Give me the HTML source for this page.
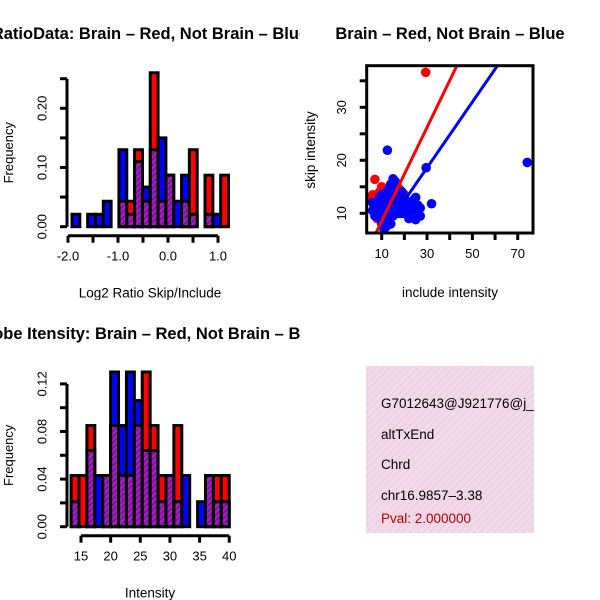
<!DOCTYPE html>
<html><head><meta charset="utf-8">
<style>
html,body{margin:0;padding:0;background:#fff;}
svg{display:block;font-family:"Liberation Sans",sans-serif;}
</style></head>
<body>
<svg id="chart" width="600" height="600" viewBox="0 0 600 600">
<defs>
<pattern id="hatch" width="4" height="4" patternUnits="userSpaceOnUse" patternTransform="rotate(45)">
<rect width="4" height="4" fill="#a020c0"/><rect width="1.5" height="4" fill="#7a1090"/>
</pattern>
<pattern id="pinkhatch" width="5" height="5" patternUnits="userSpaceOnUse" patternTransform="rotate(45)">
<rect width="5" height="5" fill="#f7d6f0"/><rect width="1.5" height="5" fill="#e3d6d4"/>
</pattern>
<clipPath id="leftTop"><rect x="0" y="0" width="300" height="300"/></clipPath>
<clipPath id="leftBot"><rect x="0" y="300" width="300" height="300"/></clipPath>
</defs>
</svg>
<script>
// ---- Histogram 1 data (Log2 ratio) ----
const h1Start = -1.92;
const h1Width = 0.1565;
const h1Blue = [0.021,0,0.021,0.021,0.043,0,0.13,0.021,0.11,0.067,0.13,0.15,0.087,0.043,0.087,0.021,0,0.021,0.021,0];
const h1Red  = [0,0,0,0,0,0,0.043,0.043,0.13,0.043,0.26,0.043,0.087,0,0.043,0.13,0,0.087,0,0.087];
const h1XTicks = [-2.0,-1.5,-1.0,-0.5,0.0,0.5,1.0];
const h1XLabels = ["-2.0","","-1.0","","0.0","","1.0"];
const h1YTicks = [0,0.05,0.10,0.15,0.20,0.25];
const h1YLabels = ["0.00","","0.10","","0.20",""];
// ---- Histogram 2 data (Intensity) ----
const h2Start = 13.33;
const h2Width = 1.3333;
const h2Blue = [0.021,0,0.064,0.043,0.043,0.13,0.085,0.13,0.106,0.064,0.064,0.021,0.043,0.021,0.043,0,0.021,0.043,0.021,0.021];
const h2Red  = [0.043,0.043,0.085,0,0.043,0.085,0.043,0.043,0.085,0.13,0.085,0.043,0.043,0.085,0,0,0,0.043,0.043,0.043];
const h2XTicks = [15,20,25,30,35,40];
const h2YTicks = [0,0.02,0.04,0.06,0.08,0.10,0.12];
const h2YLabels = ["0.00","","0.04","","0.08","","0.12"];
// ---- Scatter data ----
const redX = [29.4,7.0,6,7,8,9,10,11,12,8.5,13,15,16,18,9.5,11,7.5,14,12,20,10,8,5,6.5,17,19];
const redY = [36.6,16.4,13.5,12,13.5,14,12,13,11,10,12.5,14,13,14.5,11.5,9.5,12,10.5,8.5,13.5,15,9,12.5,11,15,12];
const blueX = [74.2,12.5,29.6,15,16,14,12,10,9,8,11,13,17,18,19,20,21,22,23,24,25,26,27,32,9,10,11,12,13,14,15,16,17,18,20,22,25,12,14,10,8,27,16,19,13,11,
  6,7,8,9,10,11,12,13,14,15,16,17,18,19,20,21,6,7,8,9,10,11,12,13,14,15,16,17,18,19,20,21,22,7,8,9,10,11,12,13,14,15,16,17,18,19,20,23,24,9,11,13,15,17,14,16,12,10,20,21];
const blueY = [19.6,21.9,18.6,16.5,16,15,13,12,11.5,12,10.5,11,12.5,13,12,11,12,11.5,12,12.5,13,11.5,11,11.8,9,8,10,9,8.5,10,9.5,10,11,10,10.5,9,8.8,7.5,8,9.5,10.5,9.5,13.5,14,14.5,7,
  12,11.5,12,12.5,12,12,12.5,12,12,11.5,12,12,11.5,12,12.5,11.5,10.5,10.5,11,11,11,11,11,11,11,11,11,11,11,11,11,11,10,9.5,9.5,9.5,10,10,10,10,10,10,10,10,10,10,10.5,11,10.5,13,13.5,13,13,14,15.5,15,14,13.5,13,12];
const scXTicks = [10,20,30,40,50,60,70];
const scXLabels = ["10","","30","","50","","70"];
const scYTicks = [10,15,20,25,30,35];
const scYLabels = ["10","","20","","30",""];
const redFit = [-0.3,0.884];
const blueFit = [0.0,0.62];

const svg = document.getElementById('chart');
const NS = 'http://www.w3.org/2000/svg';
function mk(tag, attrs, parent){
  const e = document.createElementNS(NS, tag);
  for (const k in attrs) e.setAttribute(k, attrs[k]);
  (parent||svg).appendChild(e);
  return e;
}
function txt(x,y,s,size,opts){
  const t = mk('text',{x:x,y:y,'font-size':size,'text-anchor':(opts&&opts.anchor)||'middle',fill:(opts&&opts.fill)||'#000','font-weight':(opts&&opts.bold)?'bold':'normal'});
  if(opts&&opts.rot) t.setAttribute('transform','rotate(-90 '+x+' '+y+')');
  t.textContent = s;
  return t;
}

function histogram(cfg){
  const g = mk('g',{'clip-path':cfg.clip});
  
  
  const xs = v => cfg.x0px + (v - cfg.x0) * cfg.xscale;
  const ys = v => cfg.y0px - v * cfg.yscale;
  for (let i=0;i<cfg.blue.length;i++){
    const b = cfg.blue[i], r = cfg.red[i];
    const xl = xs(cfg.start + i*cfg.width), xr = xs(cfg.start + (i+1)*cfg.width);
    const mx = Math.max(b,r), mn = Math.min(b,r);
    if (mx<=0) continue;
    const col = b>=r ? '#0000ff' : '#ff0000';
    const bar = mk('rect',{x:xl,y:ys(mx),width:xr-xl,height:ys(0)-ys(mx),fill:col,stroke:'#000','stroke-width':3}, g);
    
    
    if (mn>0){
      const ov = mk('rect',{x:xl,y:ys(mn),width:xr-xl,height:ys(0)-ys(mn),fill:'url(#hatch)',stroke:'#000','stroke-width':3}, g);
      
      
    }
  }
  const yt = cfg.yticks;
  const ya = mk('line',{x1:cfg.yaxisX,x2:cfg.yaxisX,y1:ys(yt[0]),y2:ys(yt[yt.length-1]),stroke:'#000','stroke-width':3}, g);
   
  yt.forEach((v,i)=>{
    mk('line',{x1:cfg.yaxisX-7,x2:cfg.yaxisX,y1:ys(v),y2:ys(v),stroke:'#000','stroke-width':3}, g);
    if (cfg.ylabels[i]) { const t=txt(cfg.yaxisX-24,ys(v),cfg.ylabels[i],13,{rot:true}); t.setAttribute('dominant-baseline','middle'); g.appendChild(t); }
  });
  const xt = cfg.xticks;
  const xa = mk('line',{x1:xs(xt[0]),x2:xs(xt[xt.length-1]),y1:cfg.xaxisY,y2:cfg.xaxisY,stroke:'#000','stroke-width':3}, g);
   
  xt.forEach((v,i)=>{
    mk('line',{x1:xs(v),x2:xs(v),y1:cfg.xaxisY,y2:cfg.xaxisY+7,stroke:'#000','stroke-width':3}, g);
    if (cfg.xlabels[i]) g.appendChild(txt(xs(v),cfg.xaxisY+25,cfg.xlabels[i],13));
  });
  const xl = txt(150,cfg.xaxisY+62,cfg.xtitle,13.5); g.appendChild(xl);
   
  const yl = txt(13,(ys(0)+ys(yt[yt.length-1]))/2,'Frequency',13,{rot:true}); g.appendChild(yl);
   
  const tt = txt(150,cfg.titleY,cfg.title,16.5,{bold:true}); g.appendChild(tt);
   
}

histogram({name:'ratio-histogram', clip:'url(#leftTop)', start:h1Start,width:h1Width,blue:h1Blue,red:h1Red,
  x0:-2.0,x0px:68,xscale:50,y0px:226.7,yscale:592,yaxisX:67,xaxisY:235.7,
  xticks:h1XTicks,xlabels:h1XLabels,yticks:h1YTicks,ylabels:h1YLabels,
  xtitle:'Log2 Ratio Skip/Include',title:'RatioData: Brain \u2013 Red, Not Brain \u2013 Blue',titleY:39});
histogram({name:'intensity-histogram', clip:'url(#leftBot)', start:h2Start,width:h2Width,blue:h2Blue,red:h2Red,
  x0:15,x0px:81,xscale:5.93,y0px:526.7,yscale:1190,yaxisX:67,xaxisY:535.7,
  xticks:h2XTicks,xlabels:h2XTicks.map(String),yticks:h2YTicks,ylabels:h2YLabels,
  xtitle:'Intensity',title:'Probe Itensity: Brain \u2013 Red, Not Brain \u2013 Blue',titleY:339});

// ---- Scatter ----
(function(){
  const g = mk('g',{});
  
  
  const L=366.7,R=533,T=65.7,B=233;
  const xs = v => 381.7 + (v-10)*2.267;
  const ys = v => 213.3 - (v-10)*5.3;
  const cp = mk('clipPath',{id:'scclip'}, g);
  mk('rect',{x:L,y:T,width:R-L,height:B-T}, cp);
  const pg = mk('g',{'clip-path':'url(#scclip)'}, g);
  redX.forEach((x,i)=>{
    const c = mk('circle',{cx:xs(x),cy:ys(redY[i]),r:4.8,fill:'#ff0000'}, pg);
     
  });
  blueX.forEach((x,i)=>{
    const c = mk('circle',{cx:xs(x),cy:ys(blueY[i]),r:4.8,fill:'#0000ff'}, pg);
     
  });
  const rl = mk('line',{x1:xs(0),y1:ys(redFit[0]),x2:xs(80),y2:ys(redFit[0]+redFit[1]*80),stroke:'#ff0000','stroke-width':3}, pg);
   
  const bl = mk('line',{x1:xs(0),y1:ys(blueFit[0]),x2:xs(80),y2:ys(blueFit[0]+blueFit[1]*80),stroke:'#0000ff','stroke-width':3}, pg);
   
  const box = mk('rect',{x:L,y:T,width:R-L,height:B-T,fill:'none',stroke:'#000','stroke-width':3}, g);
   
  scXTicks.forEach((v,i)=>{
    mk('line',{x1:xs(v),x2:xs(v),y1:B,y2:B+7,stroke:'#000','stroke-width':3}, g);
    if (scXLabels[i]) g.appendChild(txt(xs(v),B+25,scXLabels[i],13));
  });
  scYTicks.forEach((v,i)=>{
    mk('line',{x1:L-7,x2:L,y1:ys(v),y2:ys(v),stroke:'#000','stroke-width':3}, g);
    if (scYLabels[i]) { const t=txt(L-24,ys(v),scYLabels[i],13,{rot:true}); t.setAttribute('dominant-baseline','middle'); g.appendChild(t); }
  });
  const xt = txt(450,297,'include intensity',13.5); g.appendChild(xt);
   
  const yt = txt(315,150,'skip intensity',13.5,{rot:true}); g.appendChild(yt);
   
  const tt = txt(450,39,'Brain \u2013 Red, Not Brain \u2013 Blue',16.5,{bold:true}); g.appendChild(tt);
   
})();

// ---- Info panel ----
(function(){
  const g = mk('g',{});
  
  
  const cp = mk('clipPath',{id:'infoclip'}, g);
  mk('rect',{x:366,y:366,width:168,height:167}, cp);
  mk('rect',{x:366,y:366,width:168,height:167,fill:'url(#pinkhatch)'}, g);
  const tg = mk('g',{'clip-path':'url(#infoclip)'}, g);
  const lines = [['G7012643@J921776@j_',408,'#000'],['altTxEnd',439,'#000'],['Chrd',469,'#000'],['chr16.9857\u20133.38',500,'#000'],['Pval: 2.000000',523,'#b00000']];
  lines.forEach(l=>{
    const t = txt(381,l[1],l[0],13.5,{anchor:'start',fill:l[2]}); tg.appendChild(t);
     
  });
})();
</script>
</body></html>
